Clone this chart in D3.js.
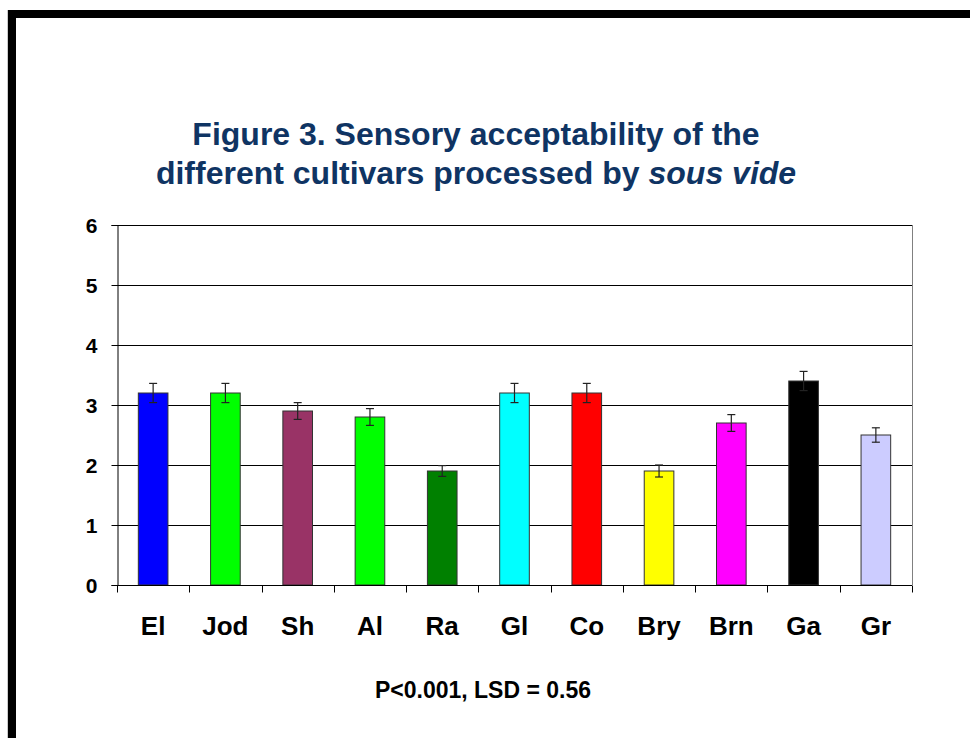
<!DOCTYPE html>
<html>
<head>
<meta charset="utf-8">
<script src="https://cdn.jsdelivr.net/npm/d3@7"></script>
<style>
  html, body { margin: 0; padding: 0; background: #fff; }
  svg { display: block; font-family: Arial, "Liberation Sans", sans-serif; }
</style>
</head>
<body>
<div id="chart"></div>
<script>
const cultivars = ["El", "Jod", "Sh", "Al", "Ra", "Gl", "Co", "Bry", "Brn", "Ga", "Gr"];
const scores = [3.2, 3.2, 2.9, 2.8, 1.9, 3.2, 3.2, 1.9, 2.7, 3.4, 2.5];
const errors = [0.16, 0.16, 0.14, 0.14, 0.09, 0.16, 0.16, 0.1, 0.14, 0.16, 0.12];
const barColors = ["#0000FF", "#00FF00", "#993366", "#00FF00", "#008000", "#00FFFF",
                   "#FF0000", "#FFFF00", "#FF00FF", "#000000", "#CCCCFF"];
const yTicks = [0, 1, 2, 3, 4, 5, 6];

const width = 970, height = 738;
const margin = { left: 117, right: 58, top: 225, bottom: 153 };

const svg = d3.select("#chart").append("svg")
  .attr("width", width)
  .attr("height", height);

// page frame (thick black edge at top and left)
svg.append("rect").attr("x", 7).attr("y", 10).attr("width", 1).attr("height", height - 10).attr("fill", "#ccc");
svg.append("rect").attr("x", 8).attr("y", 10).attr("width", width - 8).attr("height", 8).attr("fill", "#000");
svg.append("rect").attr("x", 8).attr("y", 10).attr("width", 8).attr("height", height - 10).attr("fill", "#000");

// title
const title = svg.append("text")
  .attr("text-anchor", "middle")
  .attr("fill", "#0F3463")
  .attr("font-size", 32)
  .attr("font-weight", "bold");
title.append("tspan").attr("x", 476).attr("y", 145).text("Figure 3. Sensory acceptability of the");
const line2 = title.append("tspan").attr("x", 476).attr("y", 184);
line2.append("tspan").text("different cultivars processed by ");
line2.append("tspan").attr("font-style", "italic").text("sous vide");

const x = d3.scaleBand()
  .domain(cultivars)
  .range([margin.left, width - margin.right])
  .paddingInner(0.59)
  .paddingOuter(0.295);

const y = d3.scaleLinear()
  .domain([0, 6])
  .range([height - margin.bottom, margin.top]);

// gridlines
svg.append("g")
  .selectAll("line")
  .data(yTicks)
  .join("line")
  .attr("x1", margin.left)
  .attr("x2", width - margin.right)
  .attr("y1", d => Math.round(y(d)) + 0.5)
  .attr("y2", d => Math.round(y(d)) + 0.5)
  .attr("stroke", "#000")
  .attr("stroke-width", 1);

// right border of plot area
svg.append("line")
  .attr("x1", width - margin.right + 0.5).attr("x2", width - margin.right + 0.5)
  .attr("y1", y(6)).attr("y2", y(0))
  .attr("stroke", "#808080");

// bars
svg.append("g")
  .selectAll("rect")
  .data(cultivars)
  .join("rect")
  .attr("x", d => x(d))
  .attr("y", (d, i) => y(scores[i]))
  .attr("width", x.bandwidth())
  .attr("height", (d, i) => y(0) - y(scores[i]))
  .attr("fill", (d, i) => barColors[i])
  .attr("stroke", "#333")
  .attr("stroke-width", 1);

// error bars
const err = svg.append("g")
  .attr("stroke", "#222")
  .attr("stroke-width", 1.2)
  .selectAll("g")
  .data(cultivars)
  .join("g")
  .attr("transform", d => `translate(${x(d) + x.bandwidth() / 2},0)`);
err.append("line")
  .attr("y1", (d, i) => y(scores[i] + errors[i]))
  .attr("y2", (d, i) => y(scores[i] - errors[i]));
err.append("line")
  .attr("x1", -4).attr("x2", 4)
  .attr("y1", (d, i) => y(scores[i] + errors[i]))
  .attr("y2", (d, i) => y(scores[i] + errors[i]));
err.append("line")
  .attr("x1", -4).attr("x2", 4)
  .attr("y1", (d, i) => y(scores[i] - errors[i]))
  .attr("y2", (d, i) => y(scores[i] - errors[i]));

// y axis
const yAxis = svg.append("g")
  .attr("transform", `translate(${margin.left + 0.5},0)`)
  .call(d3.axisLeft(y).tickValues(yTicks).tickSize(6).tickFormat(d3.format("d")));
yAxis.select(".domain").attr("stroke", "#000");
yAxis.selectAll(".tick line").attr("stroke", "#000");
yAxis.selectAll(".tick text")
  .attr("x", -20)
  .attr("dy", "0.36em")
  .attr("font-size", 21)
  .attr("font-weight", "bold")
  .attr("font-family", "Arial, 'Liberation Sans', sans-serif")
  .attr("fill", "#000");

// x axis with ticks between categories
const xAxis = svg.append("g")
  .attr("transform", `translate(0,${Math.round(y(0)) + 0.5})`);
xAxis.append("line")
  .attr("x1", margin.left).attr("x2", width - margin.right)
  .attr("stroke", "#000");
const boundaries = d3.range(cultivars.length + 1).map(i => margin.left + i * (width - margin.left - margin.right) / cultivars.length);
xAxis.selectAll(".sep")
  .data(boundaries)
  .join("line")
  .attr("class", "sep")
  .attr("x1", d => Math.round(d) + 0.5).attr("x2", d => Math.round(d) + 0.5)
  .attr("y1", 0).attr("y2", 7)
  .attr("stroke", "#000");
xAxis.selectAll("text")
  .data(cultivars)
  .join("text")
  .attr("x", d => x(d) + x.bandwidth() / 2)
  .attr("y", 49)
  .attr("text-anchor", "middle")
  .attr("font-size", 26)
  .attr("font-weight", "bold")
  .attr("fill", "#000")
  .text(d => d);

// footnote
svg.append("text")
  .attr("x", 483)
  .attr("y", 698)
  .attr("text-anchor", "middle")
  .attr("font-size", 23)
  .attr("font-weight", "bold")
  .text("P<0.001, LSD = 0.56");
</script>
</body>
</html>
